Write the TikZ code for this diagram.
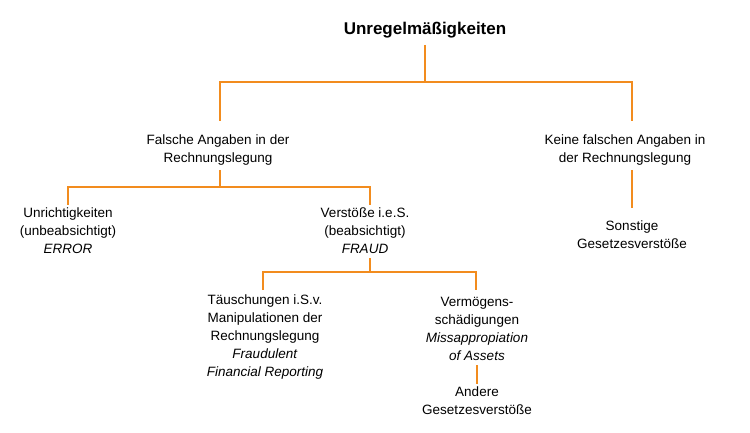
\documentclass[tikz,border=0pt]{standalone}
\usepackage{fontspec}
\setmainfont{Liberation Sans}
\begin{document}
\begin{tikzpicture}[x=1pt,y=-1pt,
  lbl/.style={align=center,font=\fontsize{13.5}{18}\selectfont,inner sep=3pt},
  con/.style={draw={rgb,255:red,242;green,140;blue,30},line width=2.6pt}]
\useasboundingbox (0,0) rectangle (750,433);
\node[font=\bfseries\fontsize{17}{20}\selectfont] (t) at (425,30) {Unregelmäßigkeiten};
\node[lbl] (f) at (218,150) {Falsche Angaben in der\\Rechnungslegung};
\node[lbl] (k) at (625,150) {Keine falschen Angaben in\\der Rechnungslegung};
\node[lbl] (u) at (68,231) {Unrichtigkeiten\\(unbeabsichtigt)\\\textit{ERROR}};
\node[lbl] (v) at (365,231) {Verstöße i.e.S.\\(beabsichtigt)\\\textit{FRAUD}};
\node[lbl] (tm) at (265,337) {Täuschungen i.S.v.\\Manipulationen der\\Rechnungslegung\\\textit{Fraudulent}\\\textit{Financial Reporting}};
\node[lbl] (vm) at (477,329) {Vermögens-\\schädigungen\\\textit{Missappropiation}\\\textit{of Assets}};
\node[lbl] (a) at (477,401) {Andere\\Gesetzesverstöße};
\node[lbl] (s) at (632,235) {Sonstige\\Gesetzesverstöße};
\coordinate (b1) at (425,82);
\coordinate (b2) at (220,187);
\coordinate (b3) at (370,272);
\draw[con] (425,45) -- (b1);
\draw[con] (b1) -| (220,121);
\draw[con] (b1) -| (632,121);
\draw[con] (220,170) -- (b2);
\draw[con] (b2) -| (68,205);
\draw[con] (b2) -| (370,205);
\draw[con] (370,258) -- (b3);
\draw[con] (b3) -| (263,290);
\draw[con] (b3) -| (476,290);
\draw[con] (477,365) -- (477,384);
\draw[con] (632,170) -- (632,208);
\end{tikzpicture}
\end{document}
